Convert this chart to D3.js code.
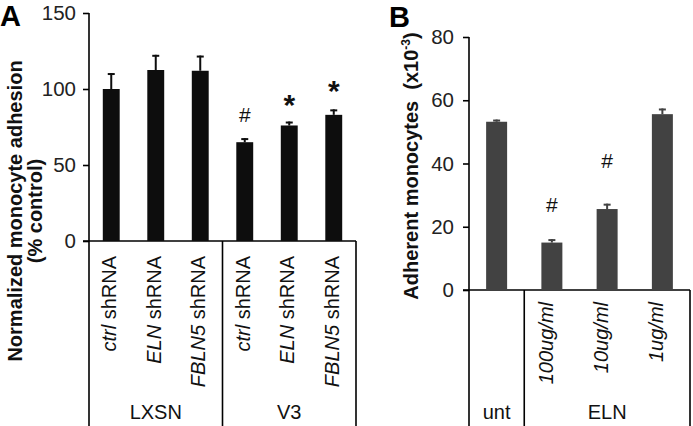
<!DOCTYPE html>
<html>
<head>
<meta charset="utf-8">
<script src="https://cdn.jsdelivr.net/npm/d3@7"></script>
<style>
  html, body { margin: 0; padding: 0; background: #fff; }
  svg { display: block; font-family: "Liberation Sans", Arial, sans-serif; }
</style>
</head>
<body>
<svg id="chart" width="693" height="426"></svg>
<script>
// ---- Panel A data ----
const catsA = ["ctrl shRNA", "ELN shRNA", "FBLN5 shRNA", "ctrl shRNA ", "ELN shRNA ", "FBLN5 shRNA "];
const italicA = ["ctrl", "ELN", "FBLN5", "ctrl", "ELN", "FBLN5"];
const restA = [" shRNA", " shRNA", " shRNA", " shRNA", " shRNA", " shRNA"];
const valuesA = [100, 112.5, 112, 65, 76, 83];
const errorsA = [10.5, 10, 10, 2.7, 2.6, 3.6];
const marksA = ["", "", "", "#", "*", "*"];
const markValA = [null, null, null, 83, 94, 103];
const groupsA = ["LXSN", "V3"];
const groupSizeA = [3, 3];
const ticksA = [0, 50, 100, 150];

// ---- Panel B data ----
const catsB = ["unt", "100ug/ml", "10ug/ml", "1ug/ml"];
const labelsB = ["", "100ug/ml", "10ug/ml", "1ug/ml"];
const valuesB = [53.2, 15, 25.6, 55.6];
const errorsB = [0.7, 1.1, 1.7, 1.8];
const marksB = ["", "#", "#", ""];
const markValB = [null, 27, 41, null];
const groupsB = ["unt", "ELN"];
const groupSizeB = [1, 3];
const ticksB = [0, 20, 40, 60, 80];

const svg = d3.select("#chart");

function panel(opt) {
  const g = svg.append("g");
  const y = d3.scaleLinear().domain(opt.domain).range([opt.y0, opt.y1]);
  const x = d3.scaleBand().domain(opt.cats).range([opt.x0, opt.x1]).padding(0);
  const bw = x.step() * 0.38;

  // y axis
  const ax = g.append("g").attr("transform", `translate(${opt.x0},0)`)
    .call(d3.axisLeft(y).tickValues(opt.ticks).tickSize(6).tickSizeOuter(0).tickPadding(opt.tickPad));
  ax.select(".domain").remove();
  ax.selectAll(".tick line").attr("stroke", "#000").attr("stroke-width", 1.6);
  ax.selectAll(".tick text").attr("font-size", 20.5).attr("font-family", "Liberation Sans, Arial, sans-serif").attr("fill", "#222");
  g.append("line").attr("x1", opt.x0).attr("x2", opt.x0).attr("y1", y(opt.domain[1])).attr("y2", 426)
    .attr("stroke", "#000").attr("stroke-width", 1.6);
  // x axis
  g.append("line").attr("x1", opt.x0 - 6).attr("x2", opt.x1).attr("y1", y(0)).attr("y2", y(0))
    .attr("stroke", "#000").attr("stroke-width", 1.6);

  // group separators & labels
  let idx = 0;
  opt.groups.forEach((grp, i) => {
    const start = x(opt.cats[idx]);
    idx += opt.groupSize[i];
    const end = idx < opt.cats.length ? x(opt.cats[idx]) : opt.x1;
    g.append("line").attr("x1", end).attr("x2", end).attr("y1", y(0)).attr("y2", 426)
      .attr("stroke", "#000").attr("stroke-width", 1.6);
    g.append("text").attr("x", (start + end) / 2).attr("y", 419).attr("text-anchor", "middle")
      .attr("font-size", 20).attr("fill", "#111").text(grp);
  });

  // bars
  g.selectAll("rect.bar").data(opt.values).join("rect")
    .attr("x", (d, i) => x(opt.cats[i]) + x.step() / 2 - bw / 2)
    .attr("width", bw)
    .attr("y", d => y(d))
    .attr("height", d => y(0) - y(d))
    .attr("fill", opt.color);

  // error bars (upper)
  opt.values.forEach((v, i) => {
    const cx = x(opt.cats[i]) + x.step() / 2;
    const top = y(v + opt.errors[i]);
    g.append("line").attr("x1", cx).attr("x2", cx).attr("y1", y(v)).attr("y2", top)
      .attr("stroke", opt.color).attr("stroke-width", 2);
    g.append("line").attr("x1", cx - 3.5).attr("x2", cx + 3.5).attr("y1", top + 1).attr("y2", top + 1)
      .attr("stroke", opt.color).attr("stroke-width", 2);
  });

  // significance marks
  opt.marks.forEach((m, i) => {
    if (!m) return;
    const cx = x(opt.cats[i]) + x.step() / 2;
    const cy = y(opt.markVals[i]);
    if (m === "*") {
      g.append("text").attr("x", cx).attr("y", cy + 17).attr("text-anchor", "middle")
        .attr("font-size", 30).attr("font-weight", "bold").attr("fill", "#111").text("*");
    } else {
      g.append("text").attr("x", cx).attr("y", cy + 7.5).attr("text-anchor", "middle")
        .attr("font-size", 21).attr("fill", "#111").text("#");
    }
  });

  // rotated category labels
  opt.cats.forEach((c, i) => {
    const it = opt.italic[i], rest = opt.rest[i];
    if (!it && !rest) return;
    const cx = x(c) + x.step() / 2 + opt.labelShift;
    const t = g.append("text")
      .attr("transform", `translate(${cx},${opt.labelTop}) rotate(-90)`)
      .attr("text-anchor", "end").attr("font-size", 20).attr("fill", "#111");
    if (it) t.append("tspan").attr("font-style", "italic").text(it);
    if (rest) t.append("tspan").text(rest);
  });

  return { g, x, y };
}

// Panel A
panel({
  cats: catsA, values: valuesA, errors: errorsA, marks: marksA, markVals: markValA,
  groups: groupsA, groupSize: groupSizeA, ticks: ticksA,
  italic: italicA, rest: restA,
  domain: [0, 150], y0: 241, y1: 13, x0: 89, x1: 356,
  color: "#0d0d0d", tickPad: 7, labelShift: 5, labelTop: 256
});

// Panel B
panel({
  cats: catsB, values: valuesB, errors: errorsB, marks: marksB, markVals: markValB,
  groups: groupsB, groupSize: groupSizeB, ticks: ticksB,
  italic: labelsB, rest: ["", "", "", ""],
  domain: [0, 80], y0: 290, y1: 37, x0: 469, x1: 690,
  color: "#424242", tickPad: 9, labelShift: 1, labelTop: 302
});

// Panel letters
svg.append("text").attr("x", 0).attr("y", 26).attr("font-size", 29).attr("font-weight", "bold").text("A");
svg.append("text").attr("x", 389).attr("y", 27).attr("font-size", 29).attr("font-weight", "bold").text("B");

// Y axis titles
const tA = svg.append("text").attr("transform", "translate(22,211) rotate(-90)")
  .attr("text-anchor", "middle").attr("font-size", 20).attr("font-weight", "bold").attr("fill", "#111");
tA.append("tspan").attr("x", 0).attr("dy", 0).text("Normalized monocyte adhesion");
tA.append("tspan").attr("x", 0).attr("dy", 20).text("(% control)");

const tB = svg.append("text").attr("transform", "translate(418,166) rotate(-90)")
  .attr("text-anchor", "middle").attr("font-size", 20).attr("font-weight", "bold").attr("fill", "#111");
tB.append("tspan").text("Adherent monocytes\u00a0\u00a0(x10");
tB.append("tspan").attr("font-size", 12).attr("dy", -8).text("-3");
tB.append("tspan").attr("dy", 8).text(")");
</script>
</body>
</html>
